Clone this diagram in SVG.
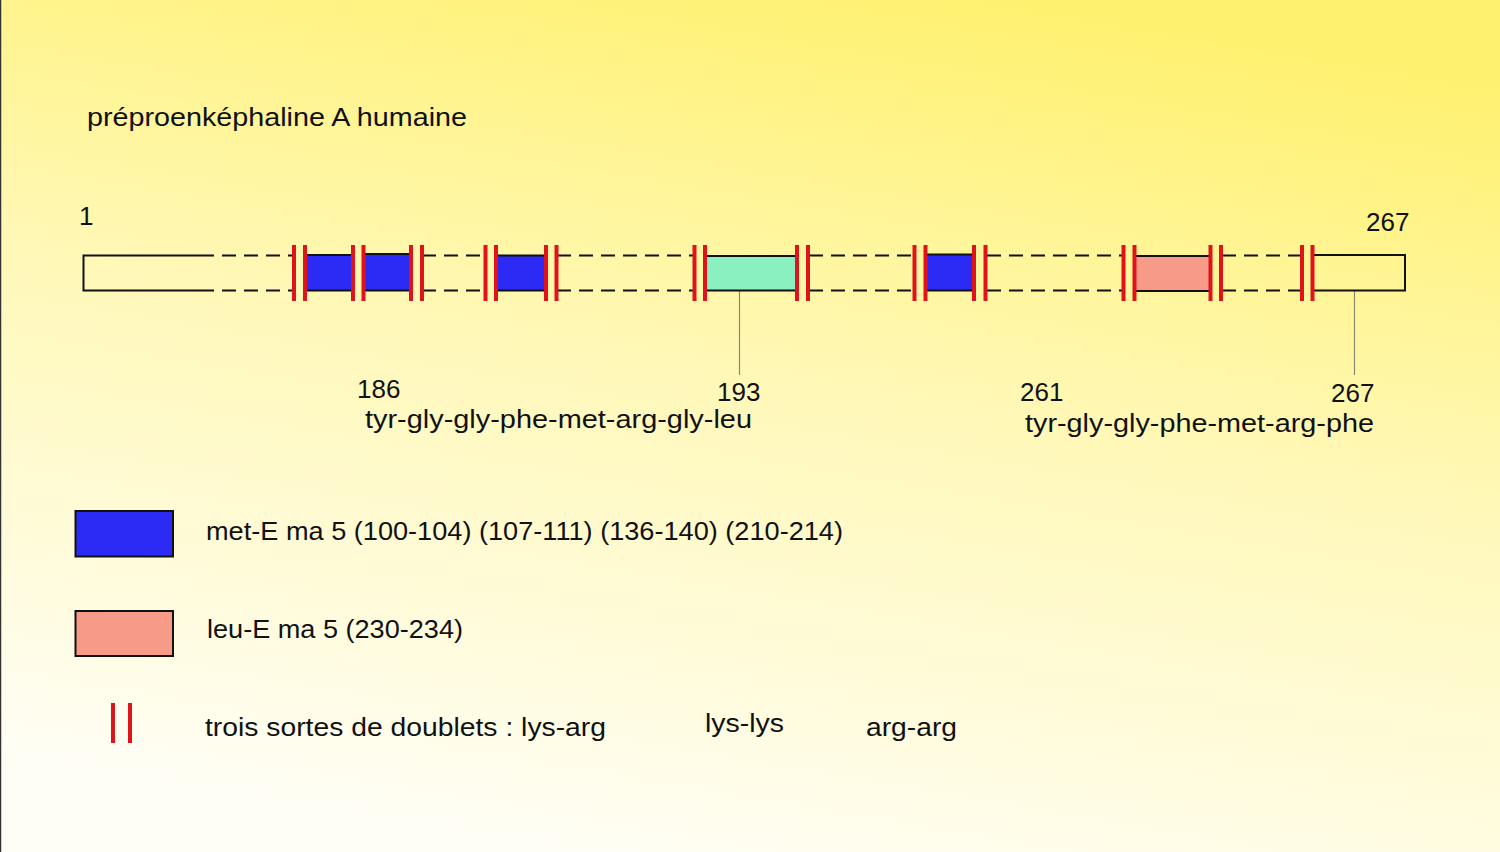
<svg xmlns="http://www.w3.org/2000/svg" width="1500" height="852" viewBox="0 0 1500 852">
<defs>
<linearGradient id="bg" x1="0.65" y1="0" x2="0.35" y2="1">
<stop offset="0" stop-color="#FFF170"/>
<stop offset="0.45" stop-color="#FFF8B8"/>
<stop offset="1" stop-color="#FFFEF6"/>
</linearGradient>
<style>
text{font-family:"Liberation Sans",Arial,sans-serif;font-size:26px;fill:#111}
.dash{stroke:#111;stroke-width:2;stroke-dasharray:14 8;fill:none}
.bx{stroke:#111;stroke-width:2}
.red{stroke:#E0121A;stroke-width:4;fill:none}
.lead{stroke:#8a8a70;stroke-width:1.2}
</style>
</defs>
<rect x="0" y="0" width="1500" height="852" fill="url(#bg)"/>
<line x1="0.5" y1="0" x2="0.5" y2="852" stroke="#333" stroke-width="1.5"/>
<text x="87" y="126" textLength="380" lengthAdjust="spacingAndGlyphs">préproenképhaline A humaine</text>

<g id="connectors">
<path class="dash" d="M222,255.5H293 M422,255.5H485 M557,255.5H694 M809,255.5H914 M987,255.5H1123 M1222,255.5H1301"/>
<path class="dash" d="M222,290.5H293 M422,290.5H485 M557,290.5H694 M809,290.5H914 M987,290.5H1123 M1222,290.5H1301"/>
<line class="lead" x1="739.5" y1="291" x2="739.5" y2="375"/>
<line class="lead" x1="1354.5" y1="291" x2="1354.5" y2="375"/>
</g>

<g id="start-segment">
<path d="M214,255.5H83.5V290.5H214" fill="none" stroke="#111" stroke-width="2"/>
<text x="79" y="225">1</text>
</g>
<g id="met1"><rect class="bx" x="305" y="255" width="48" height="35.5" fill="#2B2BF5"/></g>
<g id="met2"><rect class="bx" x="364" y="254" width="47" height="36.5" fill="#2B2BF5"/></g>
<g id="met3"><rect class="bx" x="497" y="255.5" width="48" height="35" fill="#2B2BF5"/></g>
<g id="frag193"><rect class="bx" x="706" y="256" width="90" height="34.5" fill="#8AF0C0"/></g>
<g id="met4"><rect class="bx" x="926" y="254.5" width="47" height="36" fill="#2B2BF5"/></g>
<g id="leu1"><rect class="bx" x="1135" y="256" width="75" height="35" fill="#F79A88"/></g>
<g id="end-segment">
<rect class="bx" x="1313" y="255" width="92" height="35.5" fill="none"/>
<text x="1366" y="231">267</text>
</g>

<g id="doublets">
<path class="red" d="M294,245V301 M305,245V301 M353,245V301 M363.5,245V301 M411,245V301 M422,245V301 M485.5,245V301 M496,245V301 M546,245V301 M556.5,245V301 M694.5,245V301 M705,245V301 M797,245V301 M808,245V301 M914.5,245V301 M925.5,245V301 M974,245V301 M985.5,245V301 M1123.5,245V301 M1134.5,245V301 M1210.5,245V301 M1221,245V301 M1302,245V301 M1312.5,245V301"/>
</g>

<g id="labels">
<text x="357" y="398">186</text>
<text x="717" y="401">193</text>
<text x="1020" y="401">261</text>
<text x="1331" y="402">267</text>
<text x="365" y="428" textLength="387" lengthAdjust="spacingAndGlyphs">tyr-gly-gly-phe-met-arg-gly-leu</text>
<text x="1025" y="432" textLength="349" lengthAdjust="spacingAndGlyphs">tyr-gly-gly-phe-met-arg-phe</text>
</g>

<g id="legend-met">
<rect class="bx" x="75.5" y="511" width="97.5" height="45.5" fill="#2B2BF5"/>
<text x="206" y="540" textLength="637" lengthAdjust="spacingAndGlyphs">met-E ma 5 (100-104) (107-111) (136-140) (210-214)</text>
</g>
<g id="legend-leu">
<rect class="bx" x="75.5" y="611" width="97.5" height="45" fill="#F79A88"/>
<text x="207" y="638" textLength="256" lengthAdjust="spacingAndGlyphs">leu-E ma 5 (230-234)</text>
</g>
<g id="legend-doublet">
<path class="red" d="M113,703V743 M130,703V743"/>
<text x="205" y="736" textLength="401" lengthAdjust="spacingAndGlyphs">trois sortes de doublets : lys-arg</text>
<text x="705" y="732" textLength="79" lengthAdjust="spacingAndGlyphs">lys-lys</text>
<text x="866" y="736" textLength="91" lengthAdjust="spacingAndGlyphs">arg-arg</text>
</g>
</svg>
